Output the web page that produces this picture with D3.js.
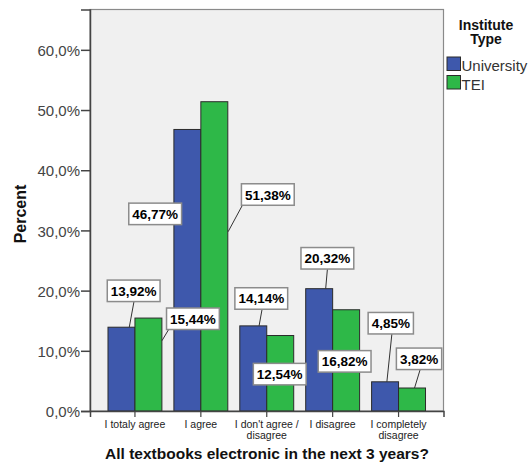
<!DOCTYPE html>
<html>
<head>
<meta charset="utf-8">
<script src="https://cdn.jsdelivr.net/npm/d3@7"></script>
<style>
  html, body { margin: 0; padding: 0; background: #fff; }
  svg { display: block; font-family: "Liberation Sans", Arial, sans-serif; }
</style>
</head>
<body>
<svg id="chart" width="530" height="470"></svg>
<script>
// Answer categories (x axis), each split into its printed lines
const categories = ["I totaly agree", "I agree", "I don't agree / disagree", "I disagree", "I completely disagree"];
const categoryLines = [["I totaly agree"], ["I agree"], ["I don't agree /", "disagree"], ["I disagree"], ["I completely", "disagree"]];

// Institute types (legend / bar groups)
const series = ["University", "TEI"];
const seriesColors = ["#3e58ac", "#2eb848"];

// Percent of respondents per answer
const university = [13.92, 46.77, 14.14, 20.32, 4.85];
const tei = [15.44, 51.38, 12.54, 16.82, 3.82];

// Y axis ticks
const yTicks = [0, 10, 20, 30, 40, 50, 60];

// Placement of the value call-outs: box centre offset from the bar's top centre,
// and an optional leader line [box dx, box dy, bar dx, bar dy]
const calloutLayout = [
  { s: 0, c: 0, dx: 12.2, dy: -36.4, leader: [0.3, 10.9, 7.8, 0] },
  { s: 1, c: 0, dx: 44.5, dy: 0.7, leader: [-24, 10.3, 13.5, 22.7] },
  { s: 0, c: 1, dx: -32.2, dy: 84.4, leader: null },
  { s: 1, c: 1, dx: 53.5, dy: 92.8, leader: [-25.3, 10.5, 13.8, 130] },
  { s: 0, c: 2, dx: 8, dy: -27.4, leader: [0.8, 10.8, 5.8, 0] },
  { s: 1, c: 2, dx: -0.5, dy: 38.6, leader: null },
  { s: 0, c: 3, dx: 8.2, dy: -30.4, leader: [0, 11, 6.5, 0] },
  { s: 1, c: 3, dx: -1.5, dy: 51.6, leader: null },
  { s: 0, c: 4, dx: 5.7, dy: -58.6, leader: [1.1, 10.8, 1.8, 0] },
  { s: 1, c: 4, dx: 7, dy: -29.2, leader: [1.2, 10.5, 2.5, 0] }
];

const values = [university, tei];
const fmt = v => v.toFixed(2).replace(".", ",") + "%";
const tickFmt = v => v.toFixed(1).replace(".", ",") + "%";

const svg = d3.select("#chart");
const plot = { left: 90, top: 9.5, right: 443.5, bottom: 411 };

const x = d3.scaleBand()
  .domain(categories)
  .range([plot.left, plot.right])
  .paddingInner(0.182)
  .paddingOuter(0.273);
const xs = d3.scaleBand().domain(series).range([0, x.bandwidth()]);
const y = d3.scaleLinear().domain([0, 66.7]).range([plot.bottom, plot.top]);

// Plot background and frame
svg.append("rect")
  .attr("x", plot.left).attr("y", plot.top)
  .attr("width", plot.right - plot.left).attr("height", plot.bottom - plot.top)
  .attr("fill", "#f0f0f0").attr("stroke", "#8a8a8a").attr("stroke-width", 1.2);

// Bars
const rows = [];
series.forEach((s, si) => categories.forEach((c, ci) => rows.push({ s, si, c, ci, v: values[si][ci] })));
svg.append("g").selectAll("rect").data(rows).join("rect")
  .attr("x", d => x(d.c) + xs(d.s))
  .attr("y", d => y(d.v))
  .attr("width", xs.bandwidth())
  .attr("height", d => y(0) - y(d.v))
  .attr("fill", d => seriesColors[d.si])
  .attr("stroke", "#2b2b2b").attr("stroke-width", 1);

// Y axis
const yAxis = svg.append("g")
  .attr("transform", `translate(${plot.left},0)`)
  .call(d3.axisLeft(y).tickValues(yTicks).tickFormat(tickFmt).tickSize(9).tickPadding(1));
yAxis.select(".domain").attr("stroke", "#444").attr("stroke-width", 1.5);
yAxis.selectAll(".tick line").attr("stroke", "#444").attr("stroke-width", 1.5);
yAxis.selectAll(".tick text")
  .attr("font-size", 15).attr("fill", "#444").attr("dy", "0.38em")
  .style("font-family", "'Liberation Sans', Arial, sans-serif");

// X axis
const xAxis = svg.append("g")
  .attr("transform", `translate(0,${plot.bottom})`)
  .call(d3.axisBottom(x).tickSize(6).tickFormat(""));
xAxis.select(".domain").attr("stroke", "#444").attr("stroke-width", 1.5);
xAxis.selectAll(".tick line").attr("stroke", "#444").attr("stroke-width", 1.2);
xAxis.selectAll(".tick text").remove();

const xLabels = svg.append("g").selectAll("text").data(categories).join("text")
  .attr("x", d => x(d) + x.bandwidth() / 2)
  .attr("y", 428)
  .attr("text-anchor", "middle")
  .attr("font-size", 10.5)
  .attr("fill", "#222");
xLabels.each(function (d, i) {
  d3.select(this).selectAll("tspan").data(categoryLines[i]).join("tspan")
    .attr("x", x(d) + x.bandwidth() / 2)
    .attr("dy", (t, j) => j === 0 ? 0 : 11)
    .text(t => t);
});

// Axis titles
svg.append("text")
  .attr("x", 267).attr("y", 459)
  .attr("text-anchor", "middle")
  .attr("font-size", 15.5).attr("font-weight", "bold").attr("fill", "#111")
  .text("All textbooks electronic in the next 3 years?");
svg.append("text")
  .attr("transform", "translate(25.5,214) rotate(-90)")
  .attr("text-anchor", "middle")
  .attr("font-size", 16).attr("font-weight", "bold").attr("fill", "#111")
  .text("Percent");

// Value call-outs: leader lines first, then boxed labels
const callouts = calloutLayout.map(l => {
  const v = values[l.s][l.c];
  const bx = x(categories[l.c]) + xs(series[l.s]) + xs.bandwidth() / 2;
  const by = y(v);
  return { ...l, v, bx, by, cx: bx + l.dx, cy: by + l.dy };
});

svg.append("g").selectAll("line").data(callouts.filter(d => d.leader)).join("line")
  .attr("x1", d => d.cx + d.leader[0]).attr("y1", d => d.cy + d.leader[1])
  .attr("x2", d => d.bx + d.leader[2]).attr("y2", d => d.by + d.leader[3])
  .attr("stroke", "#333").attr("stroke-width", 1);

const boxes = svg.append("g").selectAll("g").data(callouts).join("g")
  .attr("transform", d => `translate(${d.cx},${d.cy})`);
boxes.append("rect");
boxes.append("text")
  .attr("text-anchor", "middle")
  .attr("y", 5)
  .attr("font-size", 13.5).attr("font-weight", "bold").attr("fill", "#000")
  .text(d => fmt(d.v));
boxes.each(function () {
  const g = d3.select(this);
  const w = g.select("text").node().getComputedTextLength() + 7;
  const h = 21.5;
  g.select("rect")
    .attr("x", -w / 2).attr("y", -h / 2)
    .attr("width", w).attr("height", h)
    .attr("fill", "#fff").attr("stroke", "#8c8c8c").attr("stroke-width", 1.5);
});

// Legend: two-line title, then one swatch row per institute type
const legend = svg.append("g");
legend.selectAll("text.title").data(["Institute", "Type"]).join("text")
  .attr("class", "title")
  .attr("x", 486).attr("y", (t, j) => 29.5 + j * 14.5)
  .attr("text-anchor", "middle")
  .attr("font-size", 14).attr("font-weight", "bold").attr("fill", "#111")
  .text(t => t);
const items = legend.selectAll("g.item").data(series).join("g")
  .attr("class", "item")
  .attr("transform", (d, i) => `translate(447,${57 + i * 18.5})`);
items.append("rect")
  .attr("width", 13.5).attr("height", 13.5)
  .attr("fill", (d, i) => seriesColors[i])
  .attr("stroke", "#2b2b2b").attr("stroke-width", 1);
items.append("text")
  .attr("x", 14.5).attr("y", 14)
  .attr("font-size", 15).attr("fill", "#333")
  .text(d => d);
</script>
</body>
</html>
